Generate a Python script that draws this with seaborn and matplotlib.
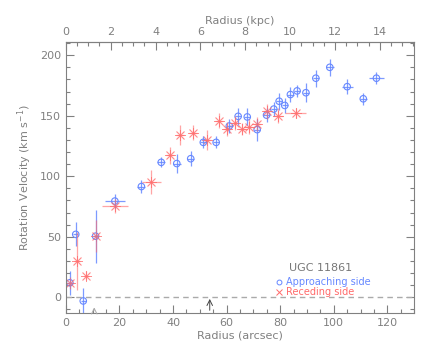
import matplotlib
matplotlib.use('Agg')
import matplotlib.pyplot as plt
import pandas as pd
import seaborn as sns
from matplotlib.ticker import MultipleLocator

# Approaching side (blue circles)
app_r = [1.5, 3.7, 6.5, 11.1, 18.3, 28.2, 35.6, 41.4, 46.6, 51.3, 56.1, 61.0, 64.3,
         67.7, 71.4, 74.9, 77.6, 79.6, 81.7, 83.8, 86.3, 89.6, 93.3, 98.5, 105.0,
         111.0, 115.9]
app_v = [12, 52, -3, 50.5, 79.5, 91.5, 111.5, 110.5, 114.5, 128, 128, 141.5, 149.5,
         149, 138.5, 150.5, 155.5, 162, 158.5, 167.5, 170.5, 169, 181, 190, 174,
         164, 181]
app_ev = [10, 10, 11, 22, 6, 5, 4, 8, 6, 5, 5, 6, 7,
          7, 9, 6, 6, 7, 6, 6, 5, 8, 7, 7, 6, 5, 5]
app_er = [1, 1, 1, 1, 3.7, 1.5, 1.5, 1.5, 1.2, 1.2, 1.2, 1.2, 1.2,
          1.2, 1.2, 1.2, 1.2, 1.2, 1.2, 1.2, 1.2, 1.2, 1.2, 1.5, 2, 1.2, 2.7]

# Receding side (red asterisks)
rec_r = [1.5, 4.1, 7.7, 11.1, 18.3, 31.9, 38.8, 42.6, 47.5, 52.6, 57.1, 60.2, 63.1,
         65.7, 68.4, 71.4, 74.9, 79.2, 85.8]
rec_v = [12, 30, 18, 50.5, 75.5, 95, 117.5, 134, 136, 130, 146, 139, 144,
         139, 141, 143, 153.5, 150, 152]
rec_ev = [5, 24, 4, 13, 6, 10, 7, 8, 6, 8, 6, 6, 6, 5, 6, 6, 6, 6, 4]
rec_er = [1.5, 1, 1, 1, 4.8, 3.6, 1.5, 1.5, 1.5, 1.5, 1.5, 1.5, 1.5,
          1.5, 1.5, 1.5, 1.5, 2, 4]

kpc_per_arcsec = 0.1195

blue = '#6688ff'
red = '#ff6a6a'
grey = '#808080'

df_app = pd.DataFrame({'r': app_r, 'v': app_v})
df_rec = pd.DataFrame({'r': rec_r, 'v': rec_v})

sns.set_style('ticks')
plt.rcParams['font.family'] = ['DejaVu Sans']
plt.rcParams['axes.edgecolor'] = grey
plt.rcParams['text.color'] = grey
plt.rcParams['xtick.color'] = grey
plt.rcParams['ytick.color'] = grey

fig = plt.figure(figsize=(4.36, 3.49), dpi=100)
ax = fig.add_axes([0.151, 0.103, 0.799, 0.777])

ax.axhline(0, color='#aaaaaa', ls='--', lw=1, dashes=(4, 3))

ax.errorbar(app_r, app_v, yerr=app_ev, xerr=app_er, fmt='none',
            ecolor=blue, elinewidth=0.9, alpha=0.85)
ax.errorbar(rec_r, rec_v, yerr=rec_ev, xerr=rec_er, fmt='none',
            ecolor=red, elinewidth=0.9, alpha=0.6)
sns.scatterplot(data=df_app, x='r', y='v', ax=ax, marker='o', s=22,
                facecolor='none', edgecolor=blue, linewidth=0.8)
sns.scatterplot(data=df_rec, x='r', y='v', ax=ax, marker=(8, 2, 0), s=55,
                color=red, linewidth=0.6, alpha=0.75)

# arrows
ax.annotate('', xy=(10.6, -6), xytext=(10.6, -13),
            arrowprops=dict(arrowstyle='->', color='#aaaaaa', lw=0.7))
ax.annotate('', xy=(53.7, 1), xytext=(53.7, -13),
            arrowprops=dict(arrowstyle='->', color='#444444', lw=0.7))

# labels inside
ax.text(95, 24, 'UGC 11861', ha='center', va='center', fontsize=8, color='#777777')
ax.plot([79.5], [12.4], marker='o', ms=3.5, mfc='none', mec=blue, mew=0.7)
ax.text(82, 12.4, 'Approaching side', ha='left', va='center', fontsize=7, color=blue)
ax.plot([79.5], [4], marker='x', ms=5, color=red, mew=0.7)
ax.text(82, 4, 'Receding side', ha='left', va='center', fontsize=7, color=red)

ax.set_xlim(0, 130)
ax.set_ylim(-13, 211)
ax.xaxis.set_major_locator(MultipleLocator(20))
ax.xaxis.set_minor_locator(MultipleLocator(5))
ax.yaxis.set_major_locator(MultipleLocator(50))
ax.yaxis.set_minor_locator(MultipleLocator(10))
ax.tick_params(which='both', direction='in', right=True, labelsize=8, width=0.8)
ax.tick_params(which='major', length=6)
ax.tick_params(which='minor', length=3)
ax.set_xlabel('Radius (arcsec)', fontsize=8, color=grey, labelpad=2)
ax.set_ylabel(r'Rotation Velocity (km s$^{-1}$)', fontsize=8, color=grey)
for s in ax.spines.values():
    s.set_linewidth(0.8)

top = ax.secondary_xaxis('top', functions=(lambda x: x * kpc_per_arcsec,
                                            lambda k: k / kpc_per_arcsec))
top.xaxis.set_major_locator(MultipleLocator(2))
top.xaxis.set_minor_locator(MultipleLocator(0.5))
top.tick_params(which='both', direction='in', labelsize=8, width=0.8, colors=grey)
top.tick_params(which='major', length=6)
top.tick_params(which='minor', length=3)
top.set_xlabel('Radius (kpc)', fontsize=8, color=grey, labelpad=2)

fig.savefig('out.png', dpi=100)
